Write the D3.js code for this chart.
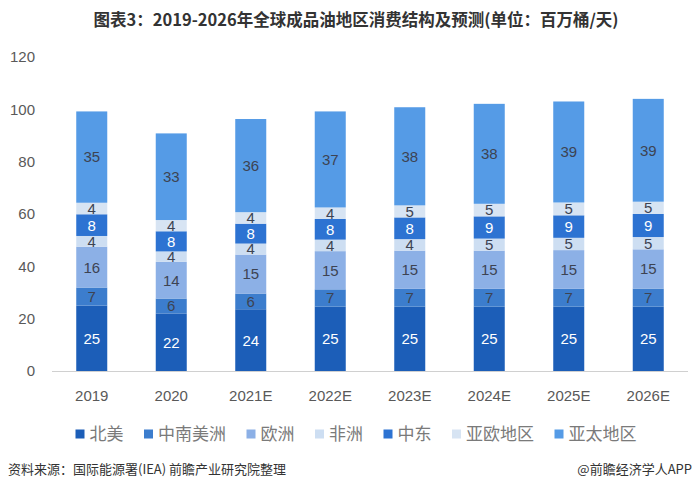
<!DOCTYPE html>
<html><head><meta charset="utf-8">
<script src="https://cdn.jsdelivr.net/npm/d3@7"></script>
<style>body{margin:0;background:#fff;} svg{display:block;}</style>
</head><body>
<svg id="c" width="700" height="493"></svg>
<script>
const categories = ["2019","2020","2021E","2022E","2023E","2024E","2025E","2026E"];
const seriesNames = ["北美","中南美洲","欧洲","非洲","中东","亚欧地区","亚太地区"];
// values; labels show rounded values
const northAmerica = [25.0,22.0,23.6,24.6,24.6,24.6,24.6,24.6];
const latinAmerica = [6.9,5.7,6.0,6.6,6.8,6.8,6.8,6.9];
const europe = [15.6,14.0,14.9,14.6,14.6,14.6,14.8,15.0];
const africa = [4.1,4.0,4.2,4.4,4.4,4.6,4.7,4.7];
const middleEast = [8.3,7.7,7.6,7.9,8.3,8.5,8.6,8.8];
const eurasia = [4.4,4.3,4.4,4.4,4.6,4.8,4.9,4.7];
const asiaPacific = [34.9,33.1,35.6,36.7,37.5,38.2,38.6,39.3];
const yTicks = [0,20,40,60,80,100,120];

const seriesValues = [northAmerica, latinAmerica, europe, africa, middleEast, eurasia, asiaPacific];
const colors = ["#1c5eb8","#3c7dcd","#8cb0e6","#cddef2","#2d73d2","#d7e4f3","#559be6"];
const labelColors = ["#ffffff","#3d4352","#3d4352","#3d4352","#ffffff","#3d4352","#3d4352"];

const svg = d3.select("#c");
const rows = categories.map((c,i)=>{const o={cat:c}; seriesNames.forEach((s,j)=>o[s]=seriesValues[j][i]); return o;});
const stack = d3.stack().keys(seriesNames)(rows);

const x = d3.scaleBand().domain(categories).range([52,688]).paddingInner(0.61).paddingOuter(0.305);
const y = d3.scaleLinear().domain([0,120]).range([371,57]);

// title
svg.append("text").attr("x",356).attr("y",26).attr("text-anchor","middle")
  .attr("font-family","'Noto Sans CJK SC', sans-serif").attr("font-weight","bold")
  .attr("font-size",16.5).attr("fill","#333").text("图表3：2019-2026年全球成品油地区消费结构及预测(单位：百万桶/天)");

// y axis labels
svg.append("g").selectAll("text").data(yTicks).join("text")
  .attr("x",35).attr("y",d=>y(d)).attr("dy","0.35em").attr("text-anchor","end")
  .attr("font-family","'Liberation Sans', Arial, sans-serif").attr("font-size",15).attr("fill","#595959")
  .text(d=>d);

// bars
const g = svg.append("g");
stack.forEach((layer,j)=>{
  g.append("g").selectAll("rect").data(layer).join("rect")
    .attr("x",d=>x(d.data.cat)).attr("width",x.bandwidth())
    .attr("y",d=>y(d[1])).attr("height",d=>y(d[0])-y(d[1]))
    .attr("fill",colors[j]);
});
stack.forEach((layer,j)=>{
  g.append("g").selectAll("text").data(layer).join("text")
    .attr("x",d=>x(d.data.cat)+x.bandwidth()/2).attr("y",d=>(y(d[0])+y(d[1]))/2)
    .attr("dy","0.36em").attr("text-anchor","middle")
    .attr("font-family","'Liberation Sans', Arial, sans-serif").attr("font-size",15)
    .attr("fill",labelColors[j]).text(d=>Math.round(d[1]-d[0]));
});

// x axis line
svg.append("line").attr("x1",52).attr("x2",688).attr("y1",371.5).attr("y2",371.5)
  .attr("stroke","#d0d0d0").attr("stroke-width",1.2);
svg.append("g").selectAll("text").data(categories).join("text")
  .attr("x",d=>x(d)+x.bandwidth()/2).attr("y",396).attr("dy","0.35em").attr("text-anchor","middle")
  .attr("font-family","'Liberation Sans', Arial, sans-serif").attr("font-size",15).attr("fill","#595959")
  .text(d=>d);

// legend
const lgd = svg.append("g");
const items = lgd.selectAll("g").data(seriesNames).join("g");
items.append("rect").attr("width",9).attr("height",9).attr("y",-4.5).attr("fill",(d,i)=>colors[i]);
items.append("text").attr("x",14).attr("dy","0.36em")
  .attr("font-family","'Noto Sans CJK SC', sans-serif").attr("font-size",17).attr("fill","#7a7a7a")
  .text(d=>d);
const widths = [];
items.each(function(){ widths.push(14 + this.querySelector("text").getComputedTextLength()); });
const gap = 20.5;
const total = d3.sum(widths) + gap*(widths.length-1);
let startX = 356 - total/2;
items.attr("transform",(d,i)=>{ const t = `translate(${startX},434)`; startX += widths[i]+gap; return t; });

// footer
svg.append("text").attr("x",8).attr("y",469).attr("dy","0.35em")
  .attr("font-family","'Noto Sans CJK SC', sans-serif").attr("font-size",13).attr("fill","#333")
  .text("资料来源：国际能源署(IEA) 前瞻产业研究院整理");
svg.append("text").attr("x",692).attr("y",469).attr("dy","0.35em").attr("text-anchor","end")
  .attr("font-family","'Noto Sans CJK SC', sans-serif").attr("font-size",13).attr("fill","#333")
  .text("@前瞻经济学人APP");
</script>
</body></html>
